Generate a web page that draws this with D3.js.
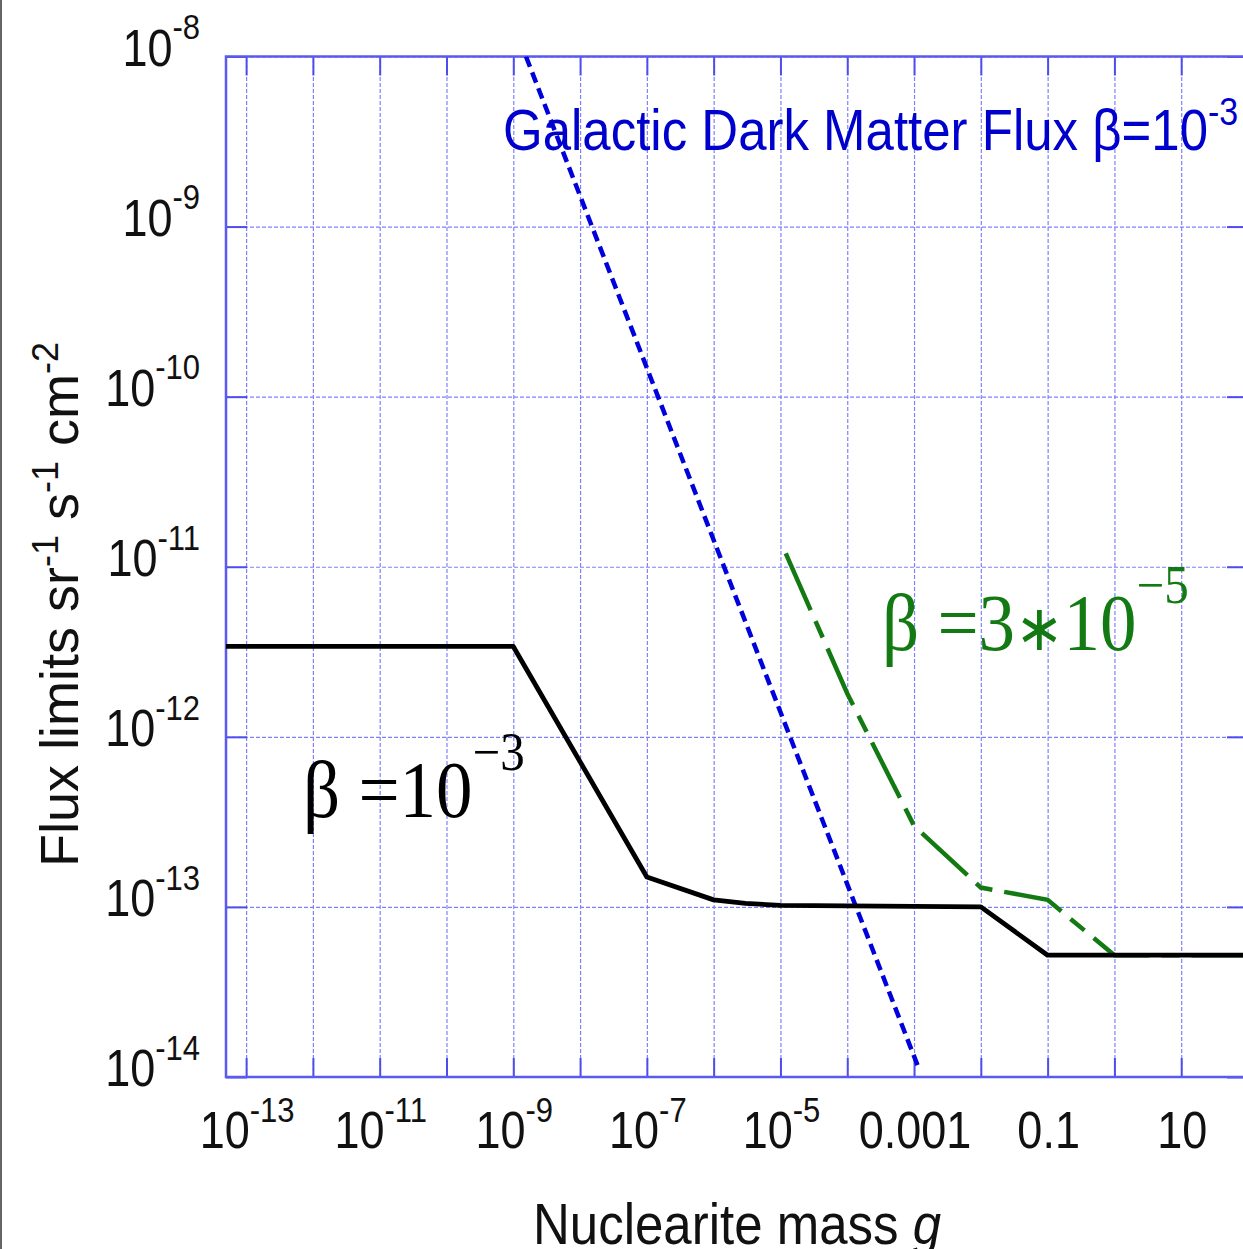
<!DOCTYPE html>
<html>
<head>
<meta charset="utf-8">
<script src="https://cdn.jsdelivr.net/npm/d3@7"></script>
<style>
  body { margin: 0; background: #fff; }
  svg { display: block; }
  .grid line { stroke: #8080ff; stroke-width: 1.2; stroke-dasharray: 4,2; }
  .grid path, .ticks path { display: none; }
  .ticks line { stroke: #4d4dee; stroke-width: 2; }
  .frame { fill: none; stroke: #5a5af0; stroke-width: 2.5; }
  .sans { font-family: 'Liberation Sans', Arial, Helvetica, sans-serif; }
  .serif { font-family: 'Liberation Serif', 'Times New Roman', serif; }
</style>
</head>
<body>
<svg width="1243" height="1249"></svg>
<script>
// decades used for ticks and grid
var massDecades = d3.range(-13, 3).map(function(e) { return Math.pow(10, e); });
var fluxDecades = d3.range(-14, -7).map(function(e) { return Math.pow(10, e); });

// tick labels
var xLabelMass = [1e-13, 1e-11, 1e-9, 1e-7, 1e-5, 1e-3, 0.1, 10];
var xLabelBase = ['10', '10', '10', '10', '10', '0.001', '0.1', '10'];
var xLabelSup  = ['-13', '-11', '-9', '-7', '-5', '', '', ''];
var yLabelFlux = [1e-8, 1e-9, 1e-10, 1e-11, 1e-12, 1e-13, 1e-14];
var yLabelSup  = ['-8', '-9', '-10', '-11', '-12', '-13', '-14'];

// beta = 1e-3 limit (black)
var limitMass = [5e-14, 1e-9, 1e-7, 1e-6, 3e-6, 1e-5, 0.01, 0.1, 100];
var limitFlux = [3.4e-12, 3.4e-12, 1.5e-13, 1.1e-13, 1.05e-13, 1.02e-13, 1.0e-13, 5.2e-14, 5.2e-14];

// beta = 3e-5 limit (green)
var slowMass = [1.2e-5, 1e-4, 1e-3, 0.01, 0.1, 1, 100];
var slowFlux = [1.2e-11, 1.8e-12, 3.0e-13, 1.3e-13, 1.1e-13, 5.2e-14, 5.2e-14];

// galactic dark matter flux (blue)
var galacticMass = [1.55e-9, 1.15e-3];
var galacticFlux = [1e-8, 1.15e-14];

var svg = d3.select('svg');
var plotLeft = 226, plotRight = 1248, plotTop = 56.5, plotBottom = 1077;

var x = d3.scaleLog().domain([5e-14, 100]).range([plotLeft, plotRight]);
var y = d3.scaleLog().domain([1e-14, 1e-8]).range([plotBottom, plotTop]);

svg.append('defs').append('clipPath').attr('id', 'plot-clip')
  .append('rect')
  .attr('x', plotLeft).attr('y', plotTop)
  .attr('width', plotRight - plotLeft).attr('height', plotBottom - plotTop);

// page edge
svg.append('line')
  .attr('x1', 1).attr('x2', 1).attr('y1', 0).attr('y2', 1249)
  .style('stroke', '#666').style('stroke-width', 2);

/* ---
GRID + TICKS
--- */
svg.append('g').attr('class', 'grid')
  .attr('transform', 'translate(0,' + plotBottom + ')')
  .call(d3.axisBottom(x).tickValues(massDecades).tickSize(-(plotBottom - plotTop)).tickFormat(''));

svg.append('g').attr('class', 'grid')
  .attr('transform', 'translate(' + plotLeft + ',0)')
  .call(d3.axisLeft(y).tickValues(fluxDecades).tickSize(-(plotRight - plotLeft)).tickFormat(''));

svg.append('g').attr('class', 'ticks')
  .attr('transform', 'translate(0,' + plotBottom + ')')
  .call(d3.axisBottom(x).tickValues(massDecades).tickSize(-19).tickFormat(''));
svg.append('g').attr('class', 'ticks')
  .attr('transform', 'translate(0,' + plotTop + ')')
  .call(d3.axisTop(x).tickValues(massDecades).tickSize(-19).tickFormat(''));
svg.append('g').attr('class', 'ticks')
  .attr('transform', 'translate(' + plotLeft + ',0)')
  .call(d3.axisLeft(y).tickValues(fluxDecades).tickSize(-21).tickFormat(''));
svg.append('g').attr('class', 'ticks')
  .attr('transform', 'translate(' + plotRight + ',0)')
  .call(d3.axisRight(y).tickValues(fluxDecades).tickSize(-21).tickFormat(''));

svg.append('rect').attr('class', 'frame')
  .attr('x', plotLeft).attr('y', plotTop)
  .attr('width', plotRight - plotLeft).attr('height', plotBottom - plotTop);

/* ---
CURVES
--- */
var line = d3.line()
  .x(function(d) { return x(d[0]); })
  .y(function(d) { return y(d[1]); });

var curves = svg.append('g').attr('clip-path', 'url(#plot-clip)');

curves.append('path')
  .datum(d3.zip(galacticMass, galacticFlux))
  .attr('d', line)
  .style('fill', 'none')
  .style('stroke', '#0000dd')
  .style('stroke-width', 4.5)
  .style('stroke-dasharray', '11,6');

curves.append('path')
  .datum(d3.zip(slowMass, slowFlux))
  .attr('d', line)
  .style('fill', 'none')
  .style('stroke', '#137a13')
  .style('stroke-width', 4.5)
  .style('stroke-dasharray', '62,12,18,12');

curves.append('path')
  .datum(d3.zip(limitMass, limitFlux))
  .attr('d', line)
  .style('fill', 'none')
  .style('stroke', '#000')
  .style('stroke-width', 4.8)
  .style('stroke-linejoin', 'round');

/* ---
LABELS
--- */
function stretched(px, py, sy) {
  return svg.append('text')
    .attr('transform', 'translate(' + px + ',' + py + ') scale(1,' + sy + ')');
}

yLabelFlux.forEach(function(v, i) {
  var t = stretched(200, y(v) + 9, 1.14)
    .attr('class', 'sans')
    .attr('text-anchor', 'end')
    .style('fill', '#111');
  t.append('tspan').style('font-size', '45px').text('10');
  t.append('tspan').style('font-size', '31px').attr('dy', -23).text(yLabelSup[i]);
});

xLabelMass.forEach(function(v, i) {
  var t = stretched(x(v) + 1, 1148, 1.14)
    .attr('class', 'sans')
    .attr('text-anchor', 'middle')
    .style('fill', '#111');
  t.append('tspan').style('font-size', '45px').text(xLabelBase[i]);
  if (xLabelSup[i] !== '')
    t.append('tspan').style('font-size', '31px').attr('dy', -23).text(xLabelSup[i]);
});

// axis titles
var xt = stretched(533, 1244, 1.12)
  .attr('class', 'sans')
  .style('font-size', '51px')
  .style('fill', '#111');
xt.append('tspan').text('Nuclearite mass ');
xt.append('tspan').style('font-style', 'italic').text('g');

var yt = svg.append('text')
  .attr('class', 'sans')
  .attr('transform', 'translate(78,867) rotate(-90)')
  .style('font-size', '54px')
  .style('fill', '#111');
yt.append('tspan').text('Flux limits sr');
yt.append('tspan').style('font-size', '36px').attr('dy', -20).text('-1');
yt.append('tspan').attr('dy', 20).text(' s');
yt.append('tspan').style('font-size', '36px').attr('dy', -20).text('-1');
yt.append('tspan').attr('dy', 20).text(' cm');
yt.append('tspan').style('font-size', '36px').attr('dy', -20).text('-2');

// curve annotations
var gt = stretched(503, 150, 1.12)
  .attr('class', 'sans')
  .style('font-size', '51px')
  .style('fill', '#0000cc');
gt.append('tspan').text('Galactic Dark Matter Flux \u03b2=10');
gt.append('tspan').style('font-size', '34px').attr('dy', -22).text('-3');

var bt = stretched(303, 817, 1.1)
  .attr('class', 'serif')
  .style('font-size', '73px')
  .style('fill', '#000');
bt.append('tspan').text('\u03b2 =10');
bt.append('tspan').style('font-size', '49px').attr('dy', -43).text('\u22123');

var st = stretched(882, 650, 1.1)
  .attr('class', 'serif')
  .style('font-size', '73px')
  .style('fill', '#137a13');
st.append('tspan').text('\u03b2 =3');
st.append('tspan').style('font-size', '58px').text('\u2217');
st.append('tspan').text('10');
st.append('tspan').style('font-size', '49px').attr('dy', -43).text('\u22125');
</script>
</body>
</html>
